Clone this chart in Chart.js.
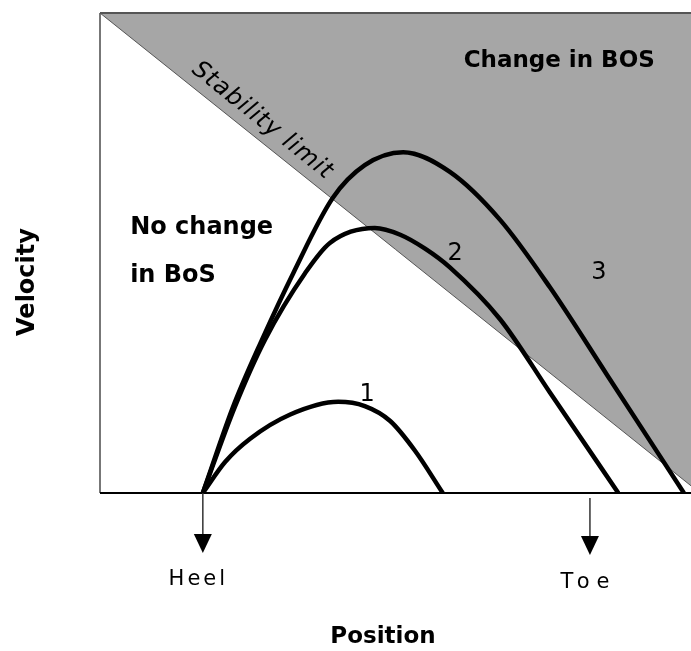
<!DOCTYPE html>
<html>
<head>
<meta charset="utf-8">
<script src="https://cdn.jsdelivr.net/npm/chart.js@4.4.1/dist/chart.umd.min.js"></script>
<style>
  html, body { margin: 0; padding: 0; background: #fff; }
  #wrap { width: 691px; height: 651px; }
</style>
</head>
<body>
<div id="wrap"><canvas id="c"></canvas></div>
<script>
// position (0..10) / velocity (0..10)
const limitX = [0, 10];
const limitY = [10, 0.15];

const step1X = [1.74, 2.12, 2.54, 3.21, 4.03, 4.48, 4.91, 5.33, 5.80];
const step1Y = [0, 0.65, 1.13, 1.63, 1.90, 1.81, 1.50, 0.88, 0];

const step2X = [1.74, 2.28, 2.79, 3.47, 3.89, 4.65, 5.08, 5.50, 5.92, 6.77, 7.61, 8.77];
const step2Y = [0, 1.79, 3.19, 4.58, 5.21, 5.52, 5.38, 5.09, 4.70, 3.62, 2.10, 0];

const step3X = [1.74, 2.25, 2.74, 3.27, 3.94, 4.48, 5.13, 5.92, 6.77, 7.61, 8.58, 9.88];
const step3Y = [0, 1.79, 3.19, 4.58, 6.15, 6.83, 7.10, 6.69, 5.69, 4.29, 2.46, 0];

const footLabels = ['Heel', 'Toe'];
const footX = [1.74, 8.29];

const curveLabels = ['1', '2', '3'];
const curveLabelX = [4.52, 6.01, 8.44];
const curveLabelY = [2.04, 4.98, 4.58];

const zoneLabels = ['Change in BOS', 'No change', 'in BoS'];
const zoneLabelX = [7.77, 0.51, 0.51];
const zoneLabelY = [9.0, 5.52, 4.52];

const pts = (xs, ys) => xs.map((x, i) => ({ x, y: ys[i] }));
const GRAY = '#a6a6a6';
const FONT = '"DejaVu Sans", sans-serif';

function curve(xs, ys){
  return {
    data: pts(xs, ys),
    borderColor: '#000',
    borderWidth: 4.5,
    pointRadius: 0,
    fill: false,
    cubicInterpolationMode: 'monotone',
    order: 0
  };
}

function arrow(ctx, x, y0, y1){
  ctx.strokeStyle = '#333';
  ctx.lineWidth = 1.5;
  ctx.beginPath();
  ctx.moveTo(x, y0);
  ctx.lineTo(x, y1 - 16);
  ctx.stroke();
  ctx.fillStyle = '#000';
  ctx.beginPath();
  ctx.moveTo(x - 9, y1 - 19);
  ctx.lineTo(x + 9, y1 - 19);
  ctx.lineTo(x, y1);
  ctx.closePath();
  ctx.fill();
}

// centred text with letter spacing, without the trailing gap
function spaced(ctx, t, cx, cy, gap){
  ctx.letterSpacing = gap + 'px';
  const w = ctx.measureText(t).width - gap;
  ctx.textAlign = 'left';
  ctx.fillText(t, cx - w / 2, cy);
  ctx.letterSpacing = '0px';
}

const decor = {
  id: 'decor',
  afterDatasetsDraw(chart){
    const { ctx, chartArea: a, scales: { x, y } } = chart;
    ctx.save();
    // frame
    ctx.lineCap = 'butt';
    ctx.lineWidth = 2;
    ctx.strokeStyle = '#777';
    ctx.beginPath(); ctx.moveTo(a.left, a.top); ctx.lineTo(a.left, a.bottom); ctx.stroke();
    ctx.strokeStyle = '#555';
    ctx.beginPath(); ctx.moveTo(a.left, a.top); ctx.lineTo(a.right, a.top); ctx.stroke();
    ctx.strokeStyle = '#000';
    ctx.beginPath(); ctx.moveTo(a.left, a.bottom); ctx.lineTo(a.right, a.bottom); ctx.stroke();

    // zone labels
    ctx.fillStyle = '#000';
    ctx.textBaseline = 'middle';
    zoneLabels.forEach((t, i) => {
      ctx.font = (i === 0 ? 'bold 23px ' : 'bold 24px ') + FONT;
      ctx.textAlign = i === 0 ? 'center' : 'left';
      ctx.fillText(t, x.getPixelForValue(zoneLabelX[i]), y.getPixelForValue(zoneLabelY[i]));
    });

    // curve numbers
    ctx.font = '24px ' + FONT;
    ctx.textAlign = 'center';
    curveLabels.forEach((t, i) => {
      ctx.fillText(t, x.getPixelForValue(curveLabelX[i]), y.getPixelForValue(curveLabelY[i]));
    });

    // stability limit, along the diagonal
    const x0 = x.getPixelForValue(limitX[0]), y0 = y.getPixelForValue(limitY[0]);
    const x1 = x.getPixelForValue(limitX[1]), y1 = y.getPixelForValue(limitY[1]);
    const ang = Math.atan2(y1 - y0, x1 - x0);
    ctx.save();
    ctx.translate(x.getPixelForValue(2.74), y.getPixelForValue(7.76));
    ctx.rotate(ang);
    ctx.font = 'italic 24px ' + FONT;
    spaced(ctx, 'Stability limit', 0, 0, 1);
    ctx.restore();

    // heel / toe arrows
    ctx.font = '21px ' + FONT;
    footLabels.forEach((t, i) => {
      const px = x.getPixelForValue(footX[i]);
      arrow(ctx, px, a.bottom + (i ? 5 : 0), a.bottom + (i ? 62 : 60));
      spaced(ctx, t, px - (i ? 5 : 6), a.bottom + (i ? 90 : 87), i ? 7 : 3);
    });

    // axis titles
    ctx.font = 'bold 23px ' + FONT;
    ctx.textAlign = 'center';
    ctx.fillText('Position', 383, 637);
    ctx.save();
    ctx.translate(28, 282);
    ctx.rotate(-Math.PI / 2);
    ctx.font = 'bold 24px ' + FONT;
    ctx.fillText('Velocity', 0, 0);
    ctx.restore();
    ctx.restore();
  }
};

new Chart(document.getElementById('c'), {
  type: 'line',
  data: {
    datasets: [
      {
        data: pts(limitX, limitY),
        borderColor: '#555',
        borderWidth: 1,
        pointRadius: 0,
        backgroundColor: GRAY,
        fill: 'end',
        tension: 0,
        order: 10
      },
      curve(step1X, step1Y),
      curve(step2X, step2Y),
      curve(step3X, step3Y)
    ]
  },
  options: {
    responsive: true,
    maintainAspectRatio: false,
    animation: false,
    layout: { padding: { left: 100, top: 13, right: 0, bottom: 158 } },
    plugins: { legend: { display: false }, tooltip: { enabled: false } },
    scales: {
      x: { type: 'linear', min: 0, max: 10, display: false },
      y: { type: 'linear', min: 0, max: 10, display: false }
    }
  },
  plugins: [decor]
});
</script>
</body>
</html>
